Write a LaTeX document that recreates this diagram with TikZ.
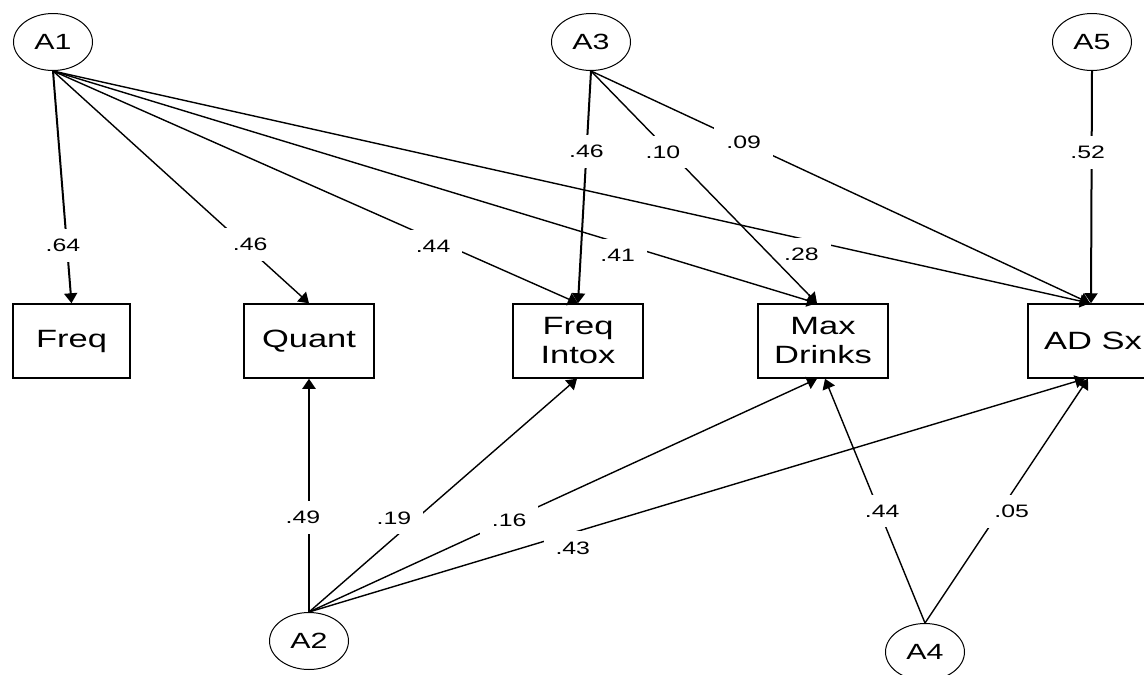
\documentclass[tikz,border=0pt]{standalone}
\usepackage{fontspec}
\setmainfont{Liberation Sans}[FakeStretch=1.38]
\usetikzlibrary{arrows.meta,shapes.geometric}

\begin{document}
\begin{tikzpicture}[x=1pt,y=-1pt,
  latent/.style={draw, ellipse, line width=1pt, minimum width=79pt,
    minimum height=57pt, inner sep=0pt, font=\fontsize{22}{24}\selectfont},
  observed/.style={draw, rectangle, line width=1.5pt, minimum width=130pt,
    minimum height=74pt, inner sep=0pt, align=center,
    font=\fontsize{25}{29}\selectfont},
  effect/.style={line width=1.4pt, -{Triangle[length=10pt,width=13pt]}},
  veffect/.style={effect, line width=2pt},
  coef/.style={fill=white, inner xsep=12pt, inner ysep=10pt,
    font=\fontsize{18}{18}\selectfont},
]
\useasboundingbox (0,0) rectangle (1144,675);
\clip (0,0) rectangle (1144,675);

% latent factors
\node[latent] (A1) at (53,42)   {A1};
\node[latent] (A3) at (591,42)  {A3};
\node[latent] (A5) at (1092,42) {A5};
\node[latent] (A2) at (309,641) {A2};
\node[latent] (A4) at (925,652) {A4};

% observed indicators
\node[observed, minimum width=117pt] (Freq) at (71.5,341) {Freq};
\node[observed] (Quant) at (309,341)  {Quant};
\node[observed] (FI)    at (578,341)  {Freq\\Intox};
\node[observed] (MD)    at (823,341)  {Max\\Drinks};
\node[observed] (AD)    at (1093,341) {AD Sx};

% loadings of A1
\draw[veffect] (A1.south) -- node[coef,pos=0.75,xshift=-4pt]{.64} (Freq.north);
\draw[effect] (A1.south) -- node[coef,pos=0.747,xshift=6pt]{.46} (Quant.north);
\draw[effect] (A1.south) -- node[coef,pos=0.743,xshift=-10pt,yshift=-3pt]{.44} (FI.north);
\draw[effect] (A1.south) -- node[coef,pos=0.76,xshift=-16pt,yshift=-8pt]{.41} ([xshift=-6pt]MD.north);
\draw[effect] (A1.south) -- node[coef,pos=0.743,xshift=-22pt,yshift=-11pt]{.28} ([xshift=-3pt]AD.north);

% loadings of A3 and A5
\draw[veffect] (A3.south) -- node[coef,pos=0.347]{.46} (FI.north);
\draw[effect] (A3.south) -- node[coef,pos=0.349,xshift=-7pt]{.10} ([xshift=-6pt]MD.north);
\draw[effect] (A3.south) -- node[coef,pos=0.306]{.09} ([xshift=-3pt]AD.north);
\draw[veffect] (A5.south) -- node[coef,pos=0.351,xshift=-4pt]{.52} ([xshift=-2pt]AD.north);

% loadings of A2
\draw[veffect] (A2.north) -- node[coef,pos=0.405,xshift=-6pt]{.49} (Quant.south);
\draw[effect] (A2.north) -- node[coef,pos=0.403,xshift=-23pt]{.19} ([xshift=-1pt]FI.south);
\draw[effect] (A2.north) -- node[coef,pos=0.394]{.16} ([xshift=-6pt]MD.south);
\draw[effect] (A2.north) -- node[coef,pos=0.318,xshift=17pt,yshift=-10pt]{.43} ([xshift=-8pt]AD.south);

% loadings of A4
\draw[effect] (A4.north) -- node[coef,pos=0.458,xshift=3pt]{.44} ([xshift=2pt]MD.south);
\draw[effect] (A4.north) -- node[coef,pos=0.458,xshift=12pt]{.05} ([xshift=-5pt]AD.south);
\end{tikzpicture}
\end{document}
